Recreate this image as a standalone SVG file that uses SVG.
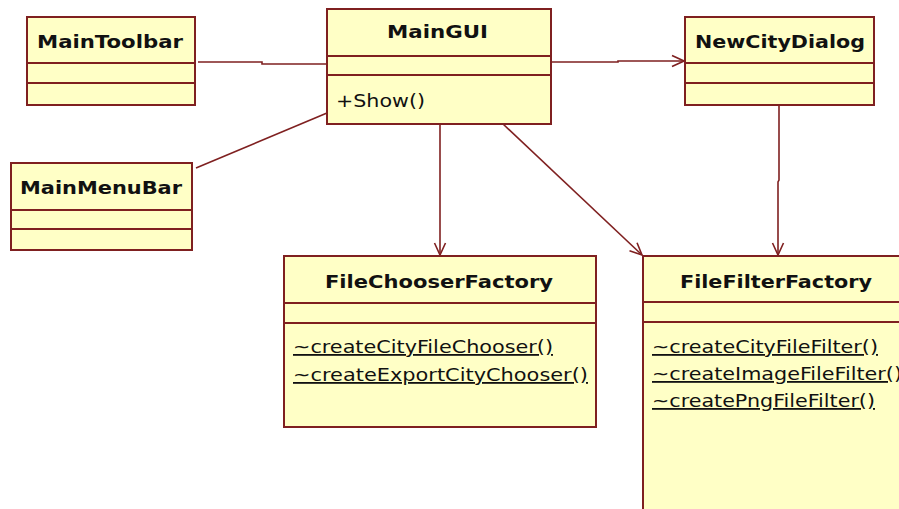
<svg xmlns="http://www.w3.org/2000/svg" width="899" height="509" viewBox="0 0 899 509">
<style>
.box{fill:#ffffc6;stroke:#7f2020;stroke-width:2}
.sep{stroke:#7f2020;stroke-width:2}
.name{font-family:"DejaVu Sans",sans-serif;font-weight:bold;font-size:18px;fill:#111}
.op{font-family:"DejaVu Sans",sans-serif;font-size:18px;fill:#111}
.u{text-decoration:underline}
.conn{fill:none;stroke:#7f2020;stroke-width:1.6}
</style>
<defs>
<marker id="open" viewBox="0 0 14 14" refX="13" refY="7" markerWidth="14" markerHeight="14" markerUnits="userSpaceOnUse" orient="auto">
<path d="M1,1.5 L13,7 L1,12.5" fill="none" stroke="#7f2020" stroke-width="1.6"/>
</marker>
</defs>
<rect width="899" height="509" fill="#fff"/>
<g id="connectors">
<polyline class="conn" points="198,62 262,62 262,64 327,64"/>
<line class="conn" x1="196" y1="168" x2="327" y2="113"/>
<polyline class="conn" points="551,62 618,62 618,61 684,61" marker-end="url(#open)"/>
<line class="conn" x1="440" y1="124" x2="440" y2="255" marker-end="url(#open)"/>
<line class="conn" x1="503" y1="124" x2="642" y2="255" marker-end="url(#open)"/>
<polyline class="conn" points="779,105 779,180 778,182 778,255" marker-end="url(#open)"/>
</g>
<g id="MainToolbar">
<rect class="box" x="27" y="17" width="168" height="88"/>
<line class="sep" x1="27" y1="63" x2="195" y2="63"/>
<line class="sep" x1="27" y1="83" x2="195" y2="83"/>
<text class="name" x="37" y="48" textLength="146" lengthAdjust="spacingAndGlyphs">MainToolbar</text>
</g>
<g id="MainMenuBar">
<rect class="box" x="11" y="163" width="181" height="87"/>
<line class="sep" x1="11" y1="210" x2="192" y2="210"/>
<line class="sep" x1="11" y1="229" x2="192" y2="229"/>
<text class="name" x="20" y="194" textLength="162" lengthAdjust="spacingAndGlyphs">MainMenuBar</text>
</g>
<g id="MainGUI">
<rect class="box" x="327" y="9" width="224" height="115"/>
<line class="sep" x1="327" y1="56" x2="551" y2="56"/>
<line class="sep" x1="327" y1="75" x2="551" y2="75"/>
<text class="name" x="387" y="38" textLength="101" lengthAdjust="spacingAndGlyphs">MainGUI</text>
<text class="op" x="336" y="107" textLength="89" lengthAdjust="spacingAndGlyphs">+Show()</text>
</g>
<g id="NewCityDialog">
<rect class="box" x="685" y="17" width="189" height="88"/>
<line class="sep" x1="685" y1="63" x2="874" y2="63"/>
<line class="sep" x1="685" y1="83" x2="874" y2="83"/>
<text class="name" x="695" y="48" textLength="170" lengthAdjust="spacingAndGlyphs">NewCityDialog</text>
</g>
<g id="FileChooserFactory">
<rect class="box" x="284" y="256" width="312" height="171"/>
<line class="sep" x1="284" y1="303" x2="596" y2="303"/>
<line class="sep" x1="284" y1="323" x2="596" y2="323"/>
<text class="name" x="325" y="288" textLength="228" lengthAdjust="spacingAndGlyphs">FileChooserFactory</text>
<text class="op u" x="293" y="353" textLength="260" lengthAdjust="spacingAndGlyphs">~createCityFileChooser()</text>
<text class="op u" x="293" y="381" textLength="295" lengthAdjust="spacingAndGlyphs">~createExportCityChooser()</text>
</g>
<g id="FileFilterFactory">
<rect class="box" x="643" y="256" width="270" height="270"/>
<line class="sep" x1="643" y1="302" x2="899" y2="302"/>
<line class="sep" x1="643" y1="322" x2="899" y2="322"/>
<text class="name" x="680" y="288" textLength="192" lengthAdjust="spacingAndGlyphs">FileFilterFactory</text>
<text class="op u" x="652" y="353" textLength="226" lengthAdjust="spacingAndGlyphs">~createCityFileFilter()</text>
<text class="op u" x="652" y="380" textLength="250" lengthAdjust="spacingAndGlyphs">~createImageFileFilter()</text>
<text class="op u" x="652" y="407" textLength="223" lengthAdjust="spacingAndGlyphs">~createPngFileFilter()</text>
</g>
</svg>
